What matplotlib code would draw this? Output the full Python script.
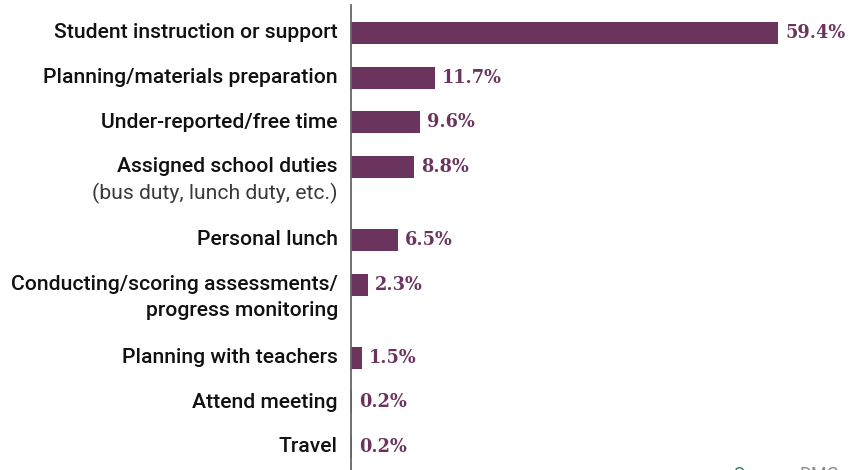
import matplotlib
matplotlib.use("Agg")
import matplotlib.pyplot as plt

# categorias (linea principal), nota secundaria y porcentaje de tiempo
categorias = [
    "Student instruction or support",
    "Planning/materials preparation",
    "Under-reported/free time",
    "Assigned school duties",
    "Personal lunch",
    "Conducting/scoring assessments/",
    "Planning with teachers",
    "Attend meeting",
    "Travel",
]
segunda_linea = ["", "", "", "(bus duty, lunch duty, etc.)", "",
                 "progress monitoring", "", "", ""]
porcentajes = [59.4, 11.7, 9.6, 8.8, 6.5, 2.3, 1.5, 0.2, 0.2]

PURPURA = "#6b345e"
W, H = 862, 470
EJE_X = 351          # posicion del eje en pixeles
PX_POR_PUNTO = 7.19  # escala horizontal de las barras

plt.rcParams["font.family"] = ["Roboto", "DejaVu Sans"]

fig = plt.figure(figsize=(W / 100, H / 100), dpi=100)
ax = fig.add_axes([EJE_X / W, 0, (W - EJE_X) / W, 1])
ax.set_xlim(0, (W - EJE_X) / PX_POR_PUNTO)
ax.set_ylim(H, 0)

# centro vertical de cada fila: paso fijo + hueco extra tras filas de dos lineas
paso, extra, y = 44.6, 28.5, 33.0
centros = []
for i, sub in enumerate(segunda_linea):
    centros.append(y)
    y += paso + (extra if sub else 0)

ax.barh(centros, porcentajes, height=22, color=PURPURA, left=0)

for c, cat, sub, v in zip(centros, categorias, segunda_linea, porcentajes):
    ax.annotate(cat, (0, c), xytext=(-13, 0), textcoords="offset pixels",
                ha="right", va="center", fontsize=15.2, fontweight="medium",
                color="#111111")
    if sub:
        nota = sub.startswith("(")
        ax.annotate(sub, (0, c + 26.5), xytext=(-13, 0), textcoords="offset pixels",
                    ha="right", va="center", fontsize=15.2,
                    color="#3a3a3a" if nota else "#111111",
                    fontweight="normal" if nota else "medium")
    ax.annotate(f"{v:.1f}%", (v, c), xytext=(7, 0), textcoords="offset pixels",
                ha="left", va="center", fontsize=12.8, fontweight="bold",
                family="DejaVu Serif", color=PURPURA)

for s in ("top", "right", "bottom"):
    ax.spines[s].set_visible(False)
ax.spines["left"].set_color("#666666")
ax.spines["left"].set_linewidth(1.3)
ax.spines["left"].set_bounds(5, H)
ax.set_xticks([])
ax.set_yticks([])
ax.patch.set_alpha(0)

# fuente, cortada en el borde inferior
fig.text(733 / W, 4 / H, "Source:", color="#2e7d5b", fontsize=13, va="top", ha="left")
fig.text(800 / W, 4 / H, "DMGroup", color="#8a8a8a", fontsize=13, va="top", ha="left")

fig.savefig("out.png", dpi=100)
